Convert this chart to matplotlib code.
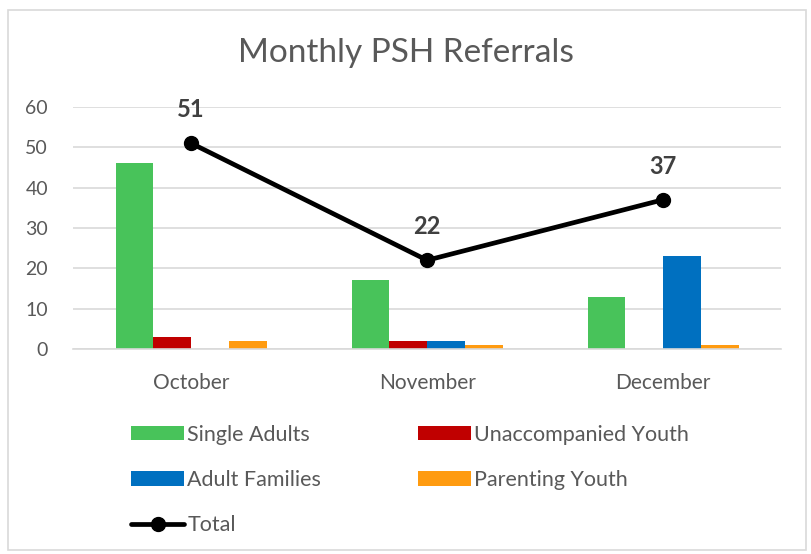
import matplotlib
matplotlib.use("Agg")
import matplotlib.pyplot as plt
import numpy as np
from matplotlib.patches import Rectangle

# data
months = ["October", "November", "December"]
single_adults = [46, 17, 13]
unaccompanied_youth = [3, 2, 0]
adult_families = [0, 2, 23]
parenting_youth = [2, 1, 1]
total = [51, 22, 37]

series = [
    ("Single Adults", single_adults, "#48C35A"),
    ("Unaccompanied Youth", unaccompanied_youth, "#C00000"),
    ("Adult Families", adult_families, "#0070C0"),
    ("Parenting Youth", parenting_youth, "#FF9B10"),
]

plt.rcParams["font.family"] = ["Lato", "DejaVu Sans"]
TEXT = "#595959"
GRID = "#D9D9D9"

fig = plt.figure(figsize=(8.12, 5.54), dpi=100, facecolor="white")
ax = fig.add_axes([0.090, 0.370, 0.872, 0.437])

x = np.arange(len(months))
w = 0.16
handles = {}
for i, (name, vals, col) in enumerate(series):
    b = ax.bar(x + (i - 1.5) * w, vals, width=w, color=col, zorder=2)
    handles[name] = b

line, = ax.plot(x, total, color="black", linewidth=3.4, marker="o",
                markersize=10, zorder=3, solid_capstyle="round")
handles["Total"] = line
for xi, t in zip(x, total):
    ax.annotate(str(t), xy=(xi, t), xytext=(0, 24), textcoords="offset points",
                ha="center", va="center", fontsize=17, fontweight="bold",
                color="#404040")

ax.set_xlim(-0.5, 2.5)
ax.set_ylim(0, 60)
ax.set_yticks(range(0, 61, 10))
ax.set_xticks(x)
ax.set_xticklabels(months)
ax.grid(axis="y", color=GRID, linewidth=1.2, zorder=0)
ax.set_axisbelow(True)
for s in ["top", "right", "left"]:
    ax.spines[s].set_visible(False)
ax.spines["bottom"].set_color(GRID)
ax.spines["bottom"].set_linewidth(1.2)
ax.tick_params(axis="both", length=0, colors=TEXT)
ax.tick_params(axis="x", pad=17, labelsize=15)
ax.tick_params(axis="y", pad=18, labelsize=14)

fig.text(0.5, 1 - 53 / 554, "Monthly PSH Referrals", ha="center", va="center",
         fontsize=24, color=TEXT)

order = ["Single Adults", "Adult Families", "Total",
         "Unaccompanied Youth", "Parenting Youth"]
leg = fig.legend([handles[n] for n in order], order, ncol=2,
                 loc="upper left", bbox_to_anchor=(0.148, 1 - 414 / 554),
                 frameon=False, fontsize=15.5, handlelength=2.47,
                 handleheight=0.65, handletextpad=0.15, labelspacing=1.17,
                 columnspacing=4.5, borderpad=0)
for t in leg.get_texts():
    t.set_color(TEXT)

fig.patches.append(Rectangle((8 / 812, 1 - 550 / 554), 798 / 812, 540 / 554,
                             transform=fig.transFigure, fill=False,
                             edgecolor=GRID, linewidth=1.2))

fig.savefig("out.png", dpi=100, facecolor="white")
